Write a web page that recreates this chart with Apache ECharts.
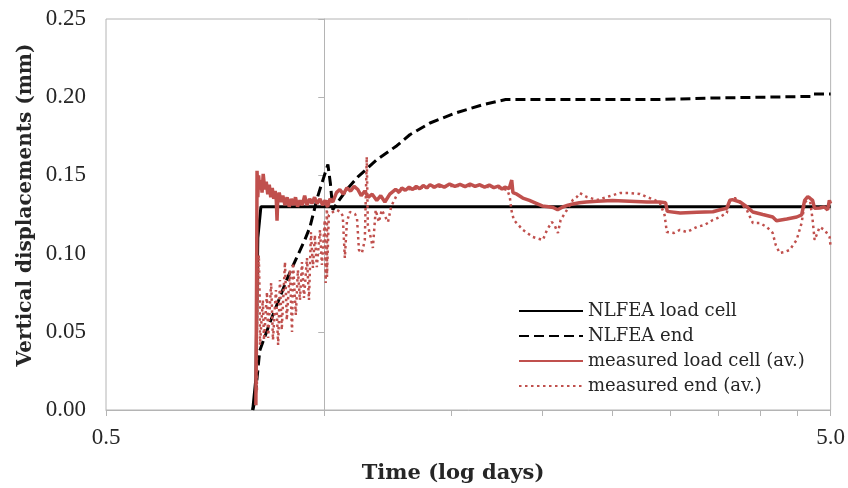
<!DOCTYPE html>
<html>
<head>
<meta charset="utf-8">
<script src="https://cdn.jsdelivr.net/npm/echarts@6/dist/echarts.min.js"></script>
<style>
  html, body { margin: 0; padding: 0; background: #ffffff; }
  #chart { width: 848px; height: 488px; }
</style>
</head>
<body>
<div id="chart"></div>
<script>
// Time axis (log scale, days) and displacement axis (mm)
const xMin = 0.5;
const xMax = 5.0;
const yCrossAt = 1.0;                       // vertical axis crosses the time axis here
const xTickValues = [0.5, 1.0, 1.5, 2.0, 2.5, 3.0, 3.5, 4.0, 4.5, 5.0];
const xLabelValues = [0.5, 5.0];
const yMin = 0;
const yMax = 0.25;
const yStep = 0.05;

const seriesNames = [
  'NLFEA load cell',
  'NLFEA end',
  'measured load cell (av.)',
  'measured end (av.)'
];

// [time (days), vertical displacement (mm)]
const nlfeaLoadCell = [
  [0.797, 0.000], [0.805, 0.020], [0.810, 0.110], [0.818, 0.130], [5.000, 0.130]
];

const nlfeaEnd = [
  [0.797, 0.000], [0.802, 0.005], [0.815, 0.038], [0.842, 0.056], [0.891, 0.085],
  [0.941, 0.109], [0.956, 0.117], [0.979, 0.136], [0.996, 0.147], [1.012, 0.157],
  [1.020, 0.145], [1.028, 0.128], [1.041, 0.132], [1.075, 0.141], [1.113, 0.149],
  [1.182, 0.160], [1.260, 0.169], [1.313, 0.176], [1.400, 0.1835], [1.520, 0.190],
  [1.650, 0.195], [1.780, 0.1985], [2.250, 0.1985], [2.900, 0.1985], [2.910, 0.1995],
  [3.460, 0.1995], [3.470, 0.2005], [4.720, 0.2005], [4.740, 0.202], [5.000, 0.202]
];

const measuredLoadCell = [
  [0.805, 0.003], [0.807, 0.090], [0.808, 0.153], [0.810, 0.136], [0.812, 0.150],
  [0.815, 0.141], [0.818, 0.147], [0.821, 0.139], [0.824, 0.151], [0.828, 0.141],
  [0.832, 0.146], [0.836, 0.138], [0.840, 0.144], [0.844, 0.136], [0.848, 0.142],
  [0.852, 0.135], [0.856, 0.140], [0.859, 0.134], [0.861, 0.121], [0.863, 0.135],
  [0.867, 0.139], [0.872, 0.133], [0.877, 0.137], [0.883, 0.131], [0.889, 0.136],
  [0.895, 0.130], [0.901, 0.135], [0.907, 0.131], [0.913, 0.136], [0.919, 0.130],
  [0.926, 0.134], [0.933, 0.131], [0.940, 0.137], [0.947, 0.131], [0.955, 0.135],
  [0.962, 0.132], [0.970, 0.136], [0.978, 0.132], [0.987, 0.135], [0.995, 0.131],
  [1.003, 0.134], [1.011, 0.130], [1.019, 0.135], [1.028, 0.133], [1.040, 0.139],
  [1.051, 0.141], [1.063, 0.138], [1.075, 0.142], [1.088, 0.140], [1.100, 0.143],
  [1.113, 0.141], [1.125, 0.137], [1.138, 0.140], [1.150, 0.136], [1.165, 0.138],
  [1.182, 0.134], [1.197, 0.137], [1.213, 0.133], [1.232, 0.138], [1.255, 0.141],
  [1.270, 0.1395], [1.280, 0.142], [1.295, 0.1405], [1.310, 0.1425], [1.325, 0.1410],
  [1.340, 0.143], [1.355, 0.1415], [1.370, 0.1435], [1.385, 0.1420], [1.400, 0.1440],
  [1.420, 0.1425], [1.440, 0.1440], [1.465, 0.1425], [1.490, 0.1445], [1.515, 0.1430],
  [1.540, 0.1442], [1.565, 0.1428], [1.590, 0.1445], [1.615, 0.1430], [1.640, 0.1440],
  [1.665, 0.1425], [1.690, 0.1438], [1.715, 0.1422], [1.740, 0.1432], [1.760, 0.1412],
  [1.776, 0.1425], [1.800, 0.1415], [1.815, 0.147], [1.822, 0.139], [1.845, 0.138],
  [1.880, 0.1355], [1.920, 0.134], [1.966, 0.132], [2.000, 0.1305], [2.040, 0.130],
  [2.070, 0.1295], [2.100, 0.128], [2.135, 0.1298], [2.170, 0.131], [2.204, 0.1317],
  [2.250, 0.1325], [2.300, 0.133], [2.380, 0.1335], [2.500, 0.134], [2.640, 0.1335],
  [2.790, 0.133], [2.906, 0.133], [2.960, 0.1325], [2.975, 0.127], [3.100, 0.126],
  [3.270, 0.1265], [3.440, 0.1268], [3.520, 0.128], [3.595, 0.129], [3.630, 0.134],
  [3.660, 0.1345], [3.750, 0.133], [3.830, 0.130], [3.905, 0.1266], [4.030, 0.125],
  [4.160, 0.1234], [4.210, 0.121], [4.350, 0.1221], [4.490, 0.1234], [4.560, 0.1247],
  [4.604, 0.134], [4.650, 0.1365], [4.677, 0.136], [4.722, 0.134], [4.750, 0.129],
  [4.830, 0.1292], [4.900, 0.1298], [4.953, 0.128], [4.980, 0.134], [5.000, 0.132]
];

const measuredEnd = [
  [0.8076, 0.0128], [0.8076, 0.0448], [0.810, 0.0767], [0.8125, 0.099], [0.815, 0.0703],
  [0.8155, 0.0416], [0.823, 0.0703], [0.826, 0.0448], [0.834, 0.0754], [0.837, 0.046],
  [0.845, 0.0812], [0.850, 0.0448], [0.858, 0.0767], [0.864, 0.0416], [0.869, 0.0831],
  [0.874, 0.0512], [0.883, 0.0946], [0.888, 0.0575], [0.897, 0.0895], [0.903, 0.0499],
  [0.906, 0.094], [0.914, 0.0607], [0.920, 0.0895], [0.926, 0.0703], [0.932, 0.0946],
  [0.938, 0.0716], [0.947, 0.0972], [0.953, 0.0703], [0.959, 0.1138], [0.965, 0.0908],
  [0.971, 0.1119], [0.977, 0.0914], [0.987, 0.1151], [0.993, 0.0927], [1.002, 0.1215],
  [1.005, 0.0812], [1.009, 0.1343], [1.009, 0.085], [1.015, 0.1247], [1.028, 0.1266],
  [1.041, 0.1279], [1.054, 0.1266], [1.061, 0.124], [1.068, 0.0972], [1.075, 0.1202],
  [1.085, 0.1266], [1.103, 0.1253], [1.110, 0.1228], [1.117, 0.1023], [1.1275, 0.1004],
  [1.138, 0.1087], [1.145, 0.1618], [1.149, 0.1183], [1.160, 0.110], [1.1675, 0.1036],
  [1.178, 0.1279], [1.190, 0.1202], [1.201, 0.1279], [1.213, 0.124], [1.225, 0.1202],
  [1.238, 0.1304], [1.250, 0.1343], [1.264, 0.1387], [1.284, 0.1407], [1.355, 0.1419],
  [1.491, 0.1432], [1.640, 0.1432], [1.748, 0.1419], [1.790, 0.1407], [1.804, 0.1362],
  [1.813, 0.1279], [1.827, 0.1215], [1.881, 0.1151], [1.941, 0.1106], [2.004, 0.1087],
  [2.030, 0.1151], [2.062, 0.1202], [2.082, 0.1176], [2.102, 0.1132], [2.120, 0.1215],
  [2.163, 0.1279], [2.204, 0.1343], [2.232, 0.1362], [2.254, 0.1387], [2.304, 0.1362],
  [2.379, 0.1343], [2.480, 0.1368], [2.559, 0.1387], [2.642, 0.1387], [2.727, 0.1381],
  [2.788, 0.1362], [2.860, 0.1343], [2.906, 0.1324], [2.950, 0.1247], [2.971, 0.1138],
  [3.040, 0.1132], [3.097, 0.1151], [3.166, 0.1138], [3.268, 0.117], [3.350, 0.1183],
  [3.439, 0.1215], [3.516, 0.1234], [3.595, 0.126], [3.629, 0.1343], [3.690, 0.1355],
  [3.746, 0.133], [3.831, 0.1279], [3.905, 0.1196], [3.992, 0.1196], [4.082, 0.117],
  [4.159, 0.1132], [4.200, 0.1055], [4.252, 0.1004], [4.320, 0.101], [4.389, 0.1023],
  [4.488, 0.1087], [4.560, 0.1196], [4.604, 0.1324], [4.677, 0.1362], [4.722, 0.1215],
  [4.752, 0.1087], [4.829, 0.117], [4.906, 0.1151], [4.984, 0.1106], [5.000, 0.1042]
];

const axisGray = '#b4b4b4';
const textColor = '#262626';
const red = '#c0504d';
const black = '#000000';

const gridLeft = 106, gridRight = 17, gridTop = 19, gridBottom = 78;
const plotWidth = 848 - gridLeft - gridRight;
// pixel shift that puts the second (tick-only) vertical axis at t = yCrossAt
const crossOffset = -plotWidth * Math.log10(yCrossAt / xMin) / Math.log10(xMax / xMin);

const chart = echarts.init(document.getElementById('chart'), null, { renderer: 'canvas' });

const lineBase = { type: 'line', symbol: 'none', showSymbol: false, animation: false, smooth: false };

chart.setOption({
  animation: false,
  backgroundColor: '#ffffff',
  grid: {
    left: gridLeft, right: gridRight, top: gridTop, bottom: gridBottom,
    show: true, borderColor: axisGray, borderWidth: 1, backgroundColor: 'transparent'
  },
  xAxis: {
    type: 'log',
    logBase: 10,
    min: xMin,
    max: xMax,
    axisLine: { show: true, lineStyle: { color: axisGray, width: 1 } },
    axisTick: { show: true, customValues: xTickValues, length: 6, lineStyle: { color: axisGray } },
    axisLabel: {
      customValues: xLabelValues,
      formatter: v => Number(v).toFixed(1),
      fontFamily: 'Liberation Serif', fontSize: 23, color: textColor, margin: 16
    },
    splitLine: { show: false },
    minorTick: { show: false }
  },
  yAxis: [
    {
      type: 'value', min: yMin, max: yMax, interval: yStep, position: 'left',
      axisLine: { show: false }, axisTick: { show: false }, splitLine: { show: false },
      axisLabel: {
        formatter: v => v.toFixed(2),
        fontFamily: 'Liberation Serif', fontSize: 23, color: textColor, margin: 20
      }
    },
    {
      type: 'value', min: yMin, max: yMax, interval: yStep, position: 'left',
      offset: crossOffset,
      axisLine: { show: true, lineStyle: { color: axisGray, width: 1 } },
      axisTick: { show: true, length: 6, lineStyle: { color: axisGray } },
      axisLabel: { show: false }, splitLine: { show: false }
    }
  ],
  legend: {
    orient: 'vertical', left: 518, top: 301, padding: 0,
    itemWidth: 64, itemHeight: 14, itemGap: 5,
    selectedMode: false,
    data: seriesNames,
    itemStyle: { opacity: 0 },
    textStyle: { fontFamily: 'DejaVu Serif', fontSize: 18, color: textColor, lineHeight: 20 }
  },
  graphic: [
    {
      type: 'text', x: 26, y: 205, rotation: Math.PI / 2,
      style: {
        text: 'Vertical displacements (mm)', fill: textColor,
        font: 'bold 20px "DejaVu Serif"', textAlign: 'center', textVerticalAlign: 'middle'
      }
    },
    {
      type: 'text', x: 453, y: 474,
      style: {
        text: 'Time (log days)', fill: textColor,
        font: 'bold 21px "DejaVu Serif"', textAlign: 'center', textVerticalAlign: 'middle'
      }
    }
  ],
  series: [
    Object.assign({}, lineBase, {
      name: seriesNames[0], data: nlfeaLoadCell, yAxisIndex: 0,
      lineStyle: { color: black, width: 3 }, itemStyle: { color: black }
    }),
    Object.assign({}, lineBase, {
      name: seriesNames[1], data: nlfeaEnd, yAxisIndex: 0,
      lineStyle: { color: black, width: 3, type: [10, 5] }, itemStyle: { color: black }
    }),
    Object.assign({}, lineBase, {
      name: seriesNames[2], data: measuredLoadCell, yAxisIndex: 0,
      lineStyle: { color: red, width: 3.5 }, itemStyle: { color: red }
    }),
    Object.assign({}, lineBase, {
      name: seriesNames[3], data: measuredEnd, yAxisIndex: 0,
      lineStyle: { color: red, width: 2.5, type: [2.5, 3.5] }, itemStyle: { color: red }
    })
  ]
});
</script>
</body>
</html>
